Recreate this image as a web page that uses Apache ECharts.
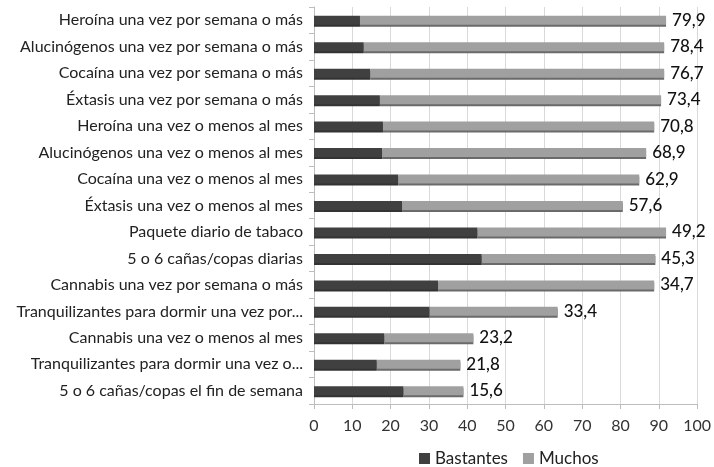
<!DOCTYPE html>
<html>
<head>
<meta charset="utf-8">
<script src="https://cdn.jsdelivr.net/npm/echarts@6/dist/echarts.min.js"></script>
<style>
  html, body { margin: 0; padding: 0; background: #fff; }
  #chart { width: 714px; height: 467px; }
</style>
</head>
<body>
<div id="chart"></div>
<script>
// categorías (de arriba a abajo)
var categorias = [
  "Heroína una vez por semana o más",
  "Alucinógenos una vez por semana o más",
  "Cocaína una vez por semana o más",
  "Éxtasis una vez por semana o más",
  "Heroína una vez o menos al mes",
  "Alucinógenos una vez o menos al mes",
  "Cocaína una vez o menos al mes",
  "Éxtasis una vez o menos al mes",
  "Paquete diario de tabaco",
  "5 o 6 cañas/copas diarias",
  "Cannabis una vez por semana o más",
  "Tranquilizantes para dormir una vez por...",
  "Cannabis una vez o menos al mes",
  "Tranquilizantes para dormir una vez o...",
  "5 o 6 cañas/copas el fin de semana"
];
var bastantes = [12.0, 13.0, 14.7, 17.2, 18.0, 17.8, 22.0, 23.0, 42.7, 43.8, 32.4, 30.2, 18.4, 16.4, 23.4];
var muchos = [79.9, 78.4, 76.7, 73.4, 70.8, 68.9, 62.9, 57.6, 49.2, 45.3, 56.4, 33.4, 23.2, 21.8, 15.6];
// texto de las etiquetas tal como aparece
var etiquetas = ["79,9", "78,4", "76,7", "73,4", "70,8", "68,9", "62,9", "57,6", "49,2", "45,3", "34,7", "33,4", "23,2", "21,8", "15,6"];

var fuente = "Lato, 'Open Sans', sans-serif";

var myChart = echarts.init(document.getElementById("chart"));
var option = {
  animation: false,
  color: ["#404041", "#a0a0a0"],
  textStyle: { fontFamily: fuente },
  grid: { left: 314, right: 14, top: 7, bottom: 63 },
  legend: {
    top: 445,
    left: 414,
    itemWidth: 11,
    itemHeight: 11,
    itemGap: 15,
    icon: "rect",
    textStyle: { fontSize: 17, color: "#222", fontFamily: fuente },
    data: ["Bastantes", "Muchos"]
  },
  xAxis: {
    type: "value",
    min: 0,
    max: 100,
    interval: 10,
    axisLine: { show: true, lineStyle: { color: "#bdbdbd" } },
    axisTick: { show: true, length: 5, lineStyle: { color: "#bdbdbd" } },
    axisLabel: { fontSize: 16, color: "#333", margin: 14, fontFamily: fuente },
    splitLine: { show: true, lineStyle: { color: "#d9d9d9" } }
  },
  yAxis: {
    type: "category",
    inverse: true,
    data: categorias,
    axisLine: { show: true, lineStyle: { color: "#bdbdbd" } },
    axisTick: { show: true, length: 5, lineStyle: { color: "#bdbdbd" } },
    axisLabel: { fontSize: 16, color: "#222", margin: 11, fontFamily: fuente }
  },
  series: [
    {
      name: "Bastantes",
      type: "bar",
      stack: "total",
      barWidth: 9,
      data: bastantes,
      itemStyle: {
        shadowColor: "#333",
        shadowOffsetY: 2,
        shadowBlur: 0
      }
    },
    {
      name: "Muchos",
      type: "bar",
      stack: "total",
      barWidth: 9,
      data: muchos,
      itemStyle: {
        shadowColor: "#6a6a6a",
        shadowOffsetY: 2,
        shadowBlur: 0
      },
      label: {
        show: true,
        position: "right",
        distance: 6,
        fontSize: 17,
        fontWeight: 500,
        color: "#111",
        fontFamily: fuente,
        formatter: function (p) {
          return etiquetas[p.dataIndex];
        }
      }
    }
  ]
};
myChart.setOption(option);
</script>
</body>
</html>
